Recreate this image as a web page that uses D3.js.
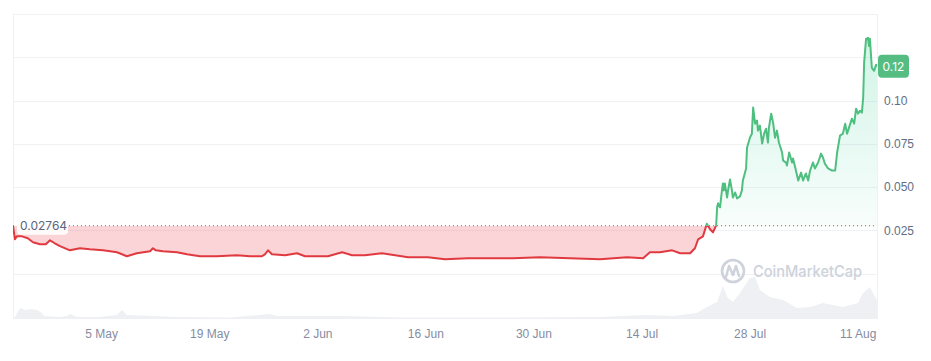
<!DOCTYPE html>
<html lang="en">
<head>
    <meta charset="UTF-8">
    <title>Price chart</title>
    <script src="https://d3js.org/d3.v7.min.js"></script>
    <style>
        body { margin: 0; background: #fff; }
        svg { display: block; font-family: Inter, "Noto Sans", sans-serif; }
        .grid line { stroke: #eff2f5; stroke-width: 1px; }
        .xaxis text { fill: #858ca2; font-size: 12px; }
        .yaxis text { fill: #616e85; font-size: 12px; }
    </style>
</head>
<body>
    <svg width="931" height="361"></svg>

    <script>
        // price series (UTC hour stamps) and values
        const priceDates = [
            "2024-04-23T14", "2024-04-23T17", "2024-04-23T20", "2024-04-24T02", "2024-04-24T18",
            "2024-04-25T12", "2024-04-26T04", "2024-04-27T02", "2024-04-27T20", "2024-04-28T09",
            "2024-04-29T00", "2024-04-29T16", "2024-04-30T23", "2024-05-02T06", "2024-05-03T13",
            "2024-05-05T06", "2024-05-07T01", "2024-05-08T08", "2024-05-09T15", "2024-05-11T08",
            "2024-05-11T17", "2024-05-12T02", "2024-05-13T00", "2024-05-14T20", "2024-05-16T03",
            "2024-05-17T19", "2024-05-20T00", "2024-05-22T14", "2024-05-24T07", "2024-05-25T20",
            "2024-05-26T05", "2024-05-26T15", "2024-05-27T03", "2024-05-28T20", "2024-05-30T09",
            "2024-05-31T10", "2024-06-03T09", "2024-06-05T05", "2024-06-06T12", "2024-06-08T04",
            "2024-06-10T09", "2024-06-12T02", "2024-06-13T18", "2024-06-16T08", "2024-06-18T13",
            "2024-06-21T11", "2024-06-23T17", "2024-06-27T08", "2024-06-30T20", "2024-07-04T18",
            "2024-07-08T15", "2024-07-12T03", "2024-07-14T05", "2024-07-15T02", "2024-07-16T09",
            "2024-07-17T23", "2024-07-19T00", "2024-07-20T07", "2024-07-20T22", "2024-07-21T08",
            "2024-07-21T23", "2024-07-22T11", "2024-07-22T21", "2024-07-23T06", "2024-07-23T16",
            "2024-07-23T19", "2024-07-23T22", "2024-07-24T04", "2024-07-24T10", "2024-07-24T13",
            "2024-07-24T16", "2024-07-24T19", "2024-07-25T02", "2024-07-25T05", "2024-07-25T11",
            "2024-07-25T17", "2024-07-25T20", "2024-07-26T03", "2024-07-26T09", "2024-07-26T18",
            "2024-07-27T00", "2024-07-27T03", "2024-07-27T13", "2024-07-27T16", "2024-07-28T01",
            "2024-07-28T07", "2024-07-28T11", "2024-07-28T17", "2024-07-28T23", "2024-07-29T02",
            "2024-07-29T08", "2024-07-29T15", "2024-07-29T21", "2024-07-30T03", "2024-07-30T09",
            "2024-07-30T12", "2024-07-30T19", "2024-07-31T01", "2024-07-31T07", "2024-07-31T13",
            "2024-07-31T19", "2024-08-01T05", "2024-08-01T08", "2024-08-01T17", "2024-08-01T20",
            "2024-08-02T03", "2024-08-02T12", "2024-08-02T15", "2024-08-03T00", "2024-08-03T07",
            "2024-08-03T16", "2024-08-03T22", "2024-08-04T07", "2024-08-04T14", "2024-08-04T20",
            "2024-08-05T05", "2024-08-05T11", "2024-08-05T21", "2024-08-06T06", "2024-08-06T12",
            "2024-08-06T18", "2024-08-07T04", "2024-08-07T16", "2024-08-08T02", "2024-08-08T08",
            "2024-08-08T17", "2024-08-09T02", "2024-08-09T09", "2024-08-09T15", "2024-08-09T21",
            "2024-08-10T06", "2024-08-10T13", "2024-08-10T19", "2024-08-11T01", "2024-08-11T07",
            "2024-08-11T13", "2024-08-11T17", "2024-08-11T20", "2024-08-12T02", "2024-08-12T08",
            "2024-08-12T11", "2024-08-12T14", "2024-08-12T20", "2024-08-13T03", "2024-08-13T09",
            "2024-08-13T12"
        ];
        const priceValues = [
            0.0276, 0.0238, 0.0198, 0.0215, 0.0215,
            0.0204, 0.0181, 0.0169, 0.0169, 0.0192,
            0.0175, 0.0158, 0.0134, 0.0146, 0.0140,
            0.0134, 0.0123, 0.0100, 0.0117, 0.0129,
            0.0146, 0.0134, 0.0129, 0.0123, 0.0111,
            0.0100, 0.0100, 0.0106, 0.0100, 0.0100,
            0.0111, 0.0134, 0.0111, 0.0106, 0.0117,
            0.0100, 0.0100, 0.0123, 0.0106, 0.0106,
            0.0117, 0.0106, 0.0094, 0.0094, 0.0083,
            0.0088, 0.0088, 0.0088, 0.0094, 0.0088,
            0.0083, 0.0094, 0.0088, 0.0123, 0.0123,
            0.0134, 0.0117, 0.0117, 0.0146, 0.0198,
            0.0215, 0.0288, 0.0256, 0.0238, 0.0279,
            0.0383, 0.0406, 0.0383, 0.0481, 0.0521,
            0.0481, 0.0521, 0.0440, 0.0481, 0.0544,
            0.0481, 0.0440, 0.0469, 0.0434, 0.0446,
            0.0481, 0.0538, 0.0608, 0.0729, 0.0786,
            0.0809, 0.0960, 0.0867, 0.0885, 0.0827,
            0.0856, 0.0752, 0.0809, 0.0838, 0.0758,
            0.0844, 0.0925, 0.0873, 0.0786, 0.0827,
            0.0758, 0.0700, 0.0654, 0.0642, 0.0625,
            0.0700, 0.0642, 0.0665, 0.0596, 0.0538,
            0.0584, 0.0538, 0.0579, 0.0538, 0.0596,
            0.0642, 0.0608, 0.0642, 0.0694, 0.0671,
            0.0636, 0.0608, 0.0596, 0.0596, 0.0700,
            0.0798, 0.0809, 0.0867, 0.0809, 0.0844,
            0.0896, 0.0867, 0.0954, 0.0925, 0.0942,
            0.0931, 0.1017, 0.1220, 0.1358, 0.1364,
            0.1317, 0.1358, 0.1190, 0.1173, 0.1208,
            0.1196
        ];

        // volume (millions, rough)
        const volDates = [
            "2024-04-23T14", "2024-04-23T20", "2024-04-24T12", "2024-04-25T03", "2024-04-25T19",
            "2024-04-26T17", "2024-04-27T08", "2024-04-27T14", "2024-04-29T16", "2024-04-30T14",
            "2024-04-30T23", "2024-05-01T21", "2024-05-04T20", "2024-05-07T01", "2024-05-07T17",
            "2024-05-08T08", "2024-05-11T17", "2024-05-14T20", "2024-05-21T17", "2024-05-26T21",
            "2024-05-27T19", "2024-06-05T08", "2024-06-12T18", "2024-06-25T16", "2024-07-08T15",
            "2024-07-14T17", "2024-07-18T02", "2024-07-21T04", "2024-07-22T11", "2024-07-23T19",
            "2024-07-24T13", "2024-07-25T02", "2024-07-25T20", "2024-07-26T18", "2024-07-28T01",
            "2024-07-28T17", "2024-07-29T08", "2024-07-30T15", "2024-08-01T08", "2024-08-03T03",
            "2024-08-04T20", "2024-08-06T12", "2024-08-07T19", "2024-08-09T02", "2024-08-11T00",
            "2024-08-11T17", "2024-08-12T14", "2024-08-13T06", "2024-08-13T12"
        ];
        const volValues = [
            1, 2, 11, 9, 10,
            9, 6, 3, 2, 3,
            5, 2, 2, 4, 9,
            4, 3, 2, 1.5, 5,
            3, 3, 1.5, 1.5, 2,
            4, 3, 6, 12, 17,
            33, 22, 17, 26, 41,
            42, 29, 22, 19, 11,
            12, 16, 14, 12, 16,
            26, 32, 22, 19
        ];

        const openPrice = 0.02764;
        const openLabel = "0.02764";
        const lastLabel = "0.12";
        const yTicks = [0.025, 0.05, 0.075, 0.1];
        const yTickLabels = ["0.025", "0.050", "0.075", "0.10"];
        const gridValues = [0, 0.025, 0.05, 0.075, 0.1, 0.125];
        const xTicks = ["2024-05-05", "2024-05-19", "2024-06-02", "2024-06-16", "2024-06-30", "2024-07-14", "2024-07-28", "2024-08-11"];
        const xDomain = ["2024-04-23T14", "2024-08-13T12"];

        const parseH = d3.utcParse("%Y-%m-%dT%H");
        const parseD = d3.utcParse("%Y-%m-%d");

        const svg = d3.select("svg");
        const plotLeft = 13, plotRight = 877, plotTop = 14, plotBottom = 319;

        const x = d3.scaleUtc()
            .domain(xDomain.map(parseH))
            .range([plotLeft, plotRight]);
        const y = d3.scaleLinear()
            .domain([0, 0.15])
            .range([273.5, 14.3]);
        const yVol = d3.scaleLinear()
            .domain([0, 46])
            .range([plotBottom, 273]);

        const price = priceDates.map((d, i) => ({ date: parseH(d), value: priceValues[i] }));
        const vol = volDates.map((d, i) => ({ date: parseH(d), value: volValues[i] }));
        const baseY = y(openPrice);

        const defs = svg.append("defs");
        defs.append("clipPath").attr("id", "clipUp")
            .append("rect").attr("x", plotLeft).attr("y", 0).attr("width", plotRight - plotLeft).attr("height", baseY);
        defs.append("clipPath").attr("id", "clipDown")
            .append("rect").attr("x", plotLeft).attr("y", baseY).attr("width", plotRight - plotLeft).attr("height", plotBottom - baseY);

        const grad = defs.append("linearGradient").attr("id", "greenFill")
            .attr("gradientUnits", "userSpaceOnUse")
            .attr("x1", 0).attr("x2", 0).attr("y1", y(0.14)).attr("y2", baseY);
        grad.append("stop").attr("offset", "0%").attr("stop-color", "#16c784").attr("stop-opacity", 0.2);
        grad.append("stop").attr("offset", "100%").attr("stop-color", "#16c784").attr("stop-opacity", 0.03);

        // frame + grid
        const grid = svg.append("g").attr("class", "grid");
        grid.selectAll("line.h")
            .data(gridValues)
            .enter().append("line")
            .attr("x1", plotLeft).attr("x2", plotRight)
            .attr("y1", d => Math.round(y(d)) + 0.5)
            .attr("y2", d => Math.round(y(d)) + 0.5);
        grid.append("line").attr("x1", plotLeft).attr("x2", plotRight).attr("y1", plotTop + 0.5).attr("y2", plotTop + 0.5);
        grid.append("line").attr("x1", plotLeft + 0.5).attr("x2", plotLeft + 0.5).attr("y1", plotTop).attr("y2", plotBottom);
        grid.append("line").attr("x1", plotRight + 0.5).attr("x2", plotRight + 0.5).attr("y1", plotTop).attr("y2", plotBottom);

        // volume
        svg.append("path")
            .datum(vol)
            .attr("fill", "#eef0f4")
            .attr("d", d3.area().x(d => x(d.date)).y0(plotBottom).y1(d => yVol(d.value)));

        // watermark
        const wm = svg.append("g").attr("opacity", 0.9);
        wm.append("circle").attr("cx", 733).attr("cy", 271).attr("r", 11)
            .attr("fill", "none").attr("stroke", "#c9ced8").attr("stroke-width", 2.6);
        wm.append("path")
            .attr("d", "M726,277 L729,266 L733,275 L736,266 L739,276")
            .attr("fill", "none").attr("stroke", "#c9ced8").attr("stroke-width", 2.4)
            .attr("stroke-linejoin", "round").attr("stroke-linecap", "round");
        wm.append("text").attr("x", 753).attr("y", 277)
            .attr("fill", "#c9ced8").attr("font-size", 16).attr("font-weight", 500)
            .attr("textLength", 109).attr("lengthAdjust", "spacingAndGlyphs")
            .text("CoinMarketCap");

        // areas
        const area = d3.area().x(d => x(d.date)).y0(baseY).y1(d => y(d.value));
        svg.append("path").datum(price)
            .attr("clip-path", "url(#clipDown)")
            .attr("fill", "#ea3943").attr("fill-opacity", 0.22)
            .attr("d", area);
        svg.append("path").datum(price)
            .attr("clip-path", "url(#clipUp)")
            .attr("fill", "url(#greenFill)")
            .attr("d", area);

        // open price dotted line
        svg.append("line")
            .attr("x1", plotLeft).attr("x2", plotRight)
            .attr("y1", baseY).attr("y2", baseY)
            .attr("stroke", "#6b7385").attr("stroke-width", 1)
            .attr("stroke-dasharray", "1,3");

        // price line
        const line = d3.line().x(d => x(d.date)).y(d => y(d.value));
        svg.append("path").datum(price)
            .attr("clip-path", "url(#clipDown)")
            .attr("fill", "none").attr("stroke", "#e03a40").attr("stroke-width", 2)
            .attr("stroke-linejoin", "round")
            .attr("d", line);
        svg.append("path").datum(price)
            .attr("clip-path", "url(#clipUp)")
            .attr("fill", "none").attr("stroke", "#4fbf80").attr("stroke-width", 2)
            .attr("stroke-linejoin", "round")
            .attr("d", line);

        // open price label
        svg.append("rect")
            .attr("x", 17).attr("y", baseY - 8).attr("width", 51).attr("height", 17).attr("rx", 4)
            .attr("fill", "#fff").attr("fill-opacity", 0.9);
        svg.append("text")
            .attr("x", 20).attr("y", baseY).attr("dy", "0.35em")
            .attr("fill", "#58667e").attr("font-size", 12)
            .text(openLabel);

        // axes
        const xAxis = svg.append("g")
            .attr("class", "xaxis")
            .attr("transform", `translate(0,${plotBottom})`)
            .call(d3.axisBottom(x)
                .tickValues(xTicks.map(parseD))
                .tickSize(0)
                .tickPadding(10)
                .tickFormat(d3.utcFormat("%-d %b")));
        xAxis.select(".domain").remove();
        xAxis.selectAll("text").attr("font-family", null);

        const yAxis = svg.append("g")
            .attr("class", "yaxis")
            .attr("transform", `translate(${plotRight},0)`)
            .call(d3.axisRight(y)
                .tickValues(yTicks)
                .tickSize(0)
                .tickPadding(7)
                .tickFormat((d, i) => yTickLabels[i]));
        yAxis.select(".domain").remove();
        yAxis.selectAll("text").attr("font-family", null);

        // last price tag
        const lastY = y(priceValues[priceValues.length - 1]);
        svg.append("rect")
            .attr("x", plotRight + 1).attr("y", lastY - 12).attr("width", 31).attr("height", 23).attr("rx", 4)
            .attr("fill", "#55bd82");
        svg.append("text")
            .attr("x", plotRight + 16.5).attr("y", lastY).attr("dy", "0.35em")
            .attr("text-anchor", "middle").attr("fill", "#fff").attr("font-size", 12)
            .text(lastLabel);
    </script>
</body>
</html>
